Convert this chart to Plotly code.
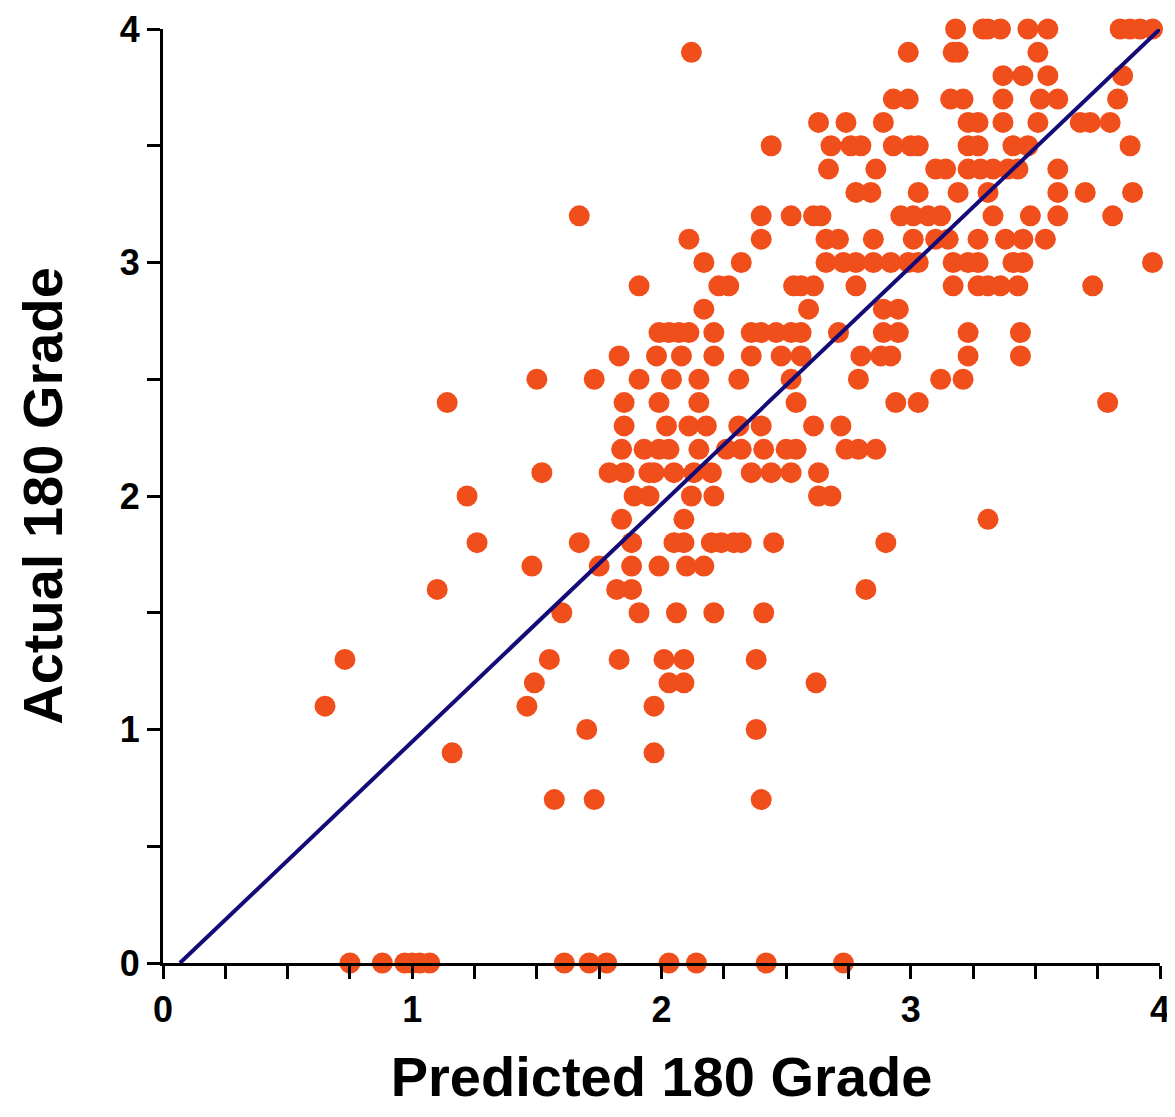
import plotly.graph_objects as go

# actual grade rows and the predicted grades read for each row
grades = [4.0, 3.9, 3.8, 3.7, 3.6, 3.5, 3.4, 3.3, 3.2, 3.1, 3.0, 2.9, 2.8, 2.7, 2.6,
          2.5, 2.4, 2.3, 2.2, 2.1, 2.0, 1.9, 1.8, 1.7, 1.6, 1.5, 1.3, 1.2, 1.1, 1.0,
          0.9, 0.7, 0.0]
predicted_rows = [
    [3.18, 3.29, 3.31, 3.36, 3.47, 3.55, 3.84, 3.88, 3.92, 3.97],
    [2.12, 2.99, 3.17, 3.19, 3.51],
    [3.37, 3.45, 3.55, 3.85],
    [2.93, 2.99, 3.16, 3.21, 3.37, 3.52, 3.59, 3.83],
    [2.63, 2.74, 2.89, 3.23, 3.27, 3.37, 3.51, 3.68, 3.72, 3.80],
    [2.44, 2.68, 2.76, 2.80, 2.93, 3.00, 3.03, 3.23, 3.27, 3.41, 3.47, 3.88],
    [2.67, 2.86, 3.10, 3.14, 3.23, 3.28, 3.33, 3.39, 3.43, 3.59],
    [2.78, 2.84, 3.03, 3.19, 3.31, 3.59, 3.70, 3.89],
    [1.67, 2.40, 2.52, 2.61, 2.64, 2.96, 3.01, 3.07, 3.12, 3.33, 3.48, 3.59, 3.81],
    [2.11, 2.40, 2.66, 2.71, 2.85, 3.01, 3.10, 3.15, 3.27, 3.38, 3.45, 3.54],
    [2.17, 2.32, 2.66, 2.73, 2.78, 2.85, 2.92, 2.99, 3.03, 3.17, 3.23, 3.27, 3.41, 3.45, 3.97],
    [1.91, 2.23, 2.27, 2.53, 2.56, 2.61, 2.78, 3.17, 3.27, 3.31, 3.36, 3.43, 3.73],
    [2.17, 2.59, 2.89, 2.95],
    [1.99, 2.03, 2.07, 2.11, 2.21, 2.36, 2.40, 2.46, 2.52, 2.56, 2.71, 2.89, 2.95, 3.23, 3.44],
    [1.83, 1.98, 2.08, 2.21, 2.36, 2.48, 2.56, 2.80, 2.88, 2.92, 3.23, 3.44],
    [1.50, 1.73, 1.91, 2.04, 2.15, 2.31, 2.52, 2.79, 3.12, 3.21],
    [1.14, 1.85, 1.99, 2.15, 2.54, 2.94, 3.03, 3.79],
    [1.85, 2.02, 2.11, 2.18, 2.31, 2.40, 2.61, 2.72],
    [1.84, 1.93, 1.99, 2.03, 2.15, 2.26, 2.32, 2.41, 2.50, 2.54, 2.74, 2.79, 2.86],
    [1.52, 1.79, 1.85, 1.95, 1.97, 2.05, 2.13, 2.20, 2.36, 2.44, 2.52, 2.63],
    [1.22, 1.89, 1.95, 2.12, 2.21, 2.63, 2.68],
    [1.84, 2.09, 3.31],
    [1.26, 1.67, 1.88, 2.05, 2.09, 2.20, 2.24, 2.29, 2.32, 2.45, 2.90],
    [1.48, 1.75, 1.88, 1.99, 2.10, 2.17],
    [1.10, 1.82, 1.88, 2.82],
    [1.60, 1.91, 2.06, 2.21, 2.41],
    [0.73, 1.55, 1.83, 2.01, 2.09, 2.38],
    [1.49, 2.03, 2.09, 2.62],
    [0.65, 1.46, 1.97],
    [1.70, 2.38],
    [1.16, 1.97],
    [1.57, 1.73, 2.40],
    [0.75, 0.88, 0.97, 1.00, 1.03, 1.07, 1.61, 1.71, 1.78, 2.03, 2.14, 2.42, 2.73],
]

# fitted line end points
fit_x = [0.068, 4.0]
fit_y = [0.0, 4.0]

pred = []
actual = []
for g, row in zip(grades, predicted_rows):
    for p in row:
        pred.append(p)
        actual.append(g)

fig = go.Figure()
fig.add_trace(go.Scatter(x=pred, y=actual, mode="markers",
                         marker=dict(color="#F04E1A", size=21, line=dict(width=0)),
                         cliponaxis=False))
fig.add_trace(go.Scatter(x=fit_x, y=fit_y, mode="lines",
                         line=dict(color="#150B78", width=4), cliponaxis=False))

font = dict(family="Liberation Sans, Arial", color="black", weight="bold")
axis = dict(range=[0, 4], showgrid=False, zeroline=False, showline=True,
            linecolor="black", linewidth=3, ticks="outside", tickwidth=3,
            ticklen=13, tickcolor="black", dtick=1, automargin=False,
            tickfont=dict(size=36, **font))
fig.update_xaxes(**axis, minor=dict(dtick=0.25, ticks="outside", ticklen=13,
                                    tickwidth=3, tickcolor="black"),
                 title=dict(text="Predicted 180 Grade", font=dict(size=56, **font),
                            standoff=28))
fig.update_yaxes(**axis, minor=dict(dtick=0.5, ticks="outside", ticklen=13,
                                    tickwidth=3, tickcolor="black"),
                 title=dict(text="Actual 180 Grade", font=dict(size=56, **font),
                            standoff=40))
fig.update_layout(width=1175, height=1117, showlegend=False,
                  plot_bgcolor="white", paper_bgcolor="white",
                  margin=dict(l=155, r=23, t=21, b=162))
fig.write_html("out.html")
